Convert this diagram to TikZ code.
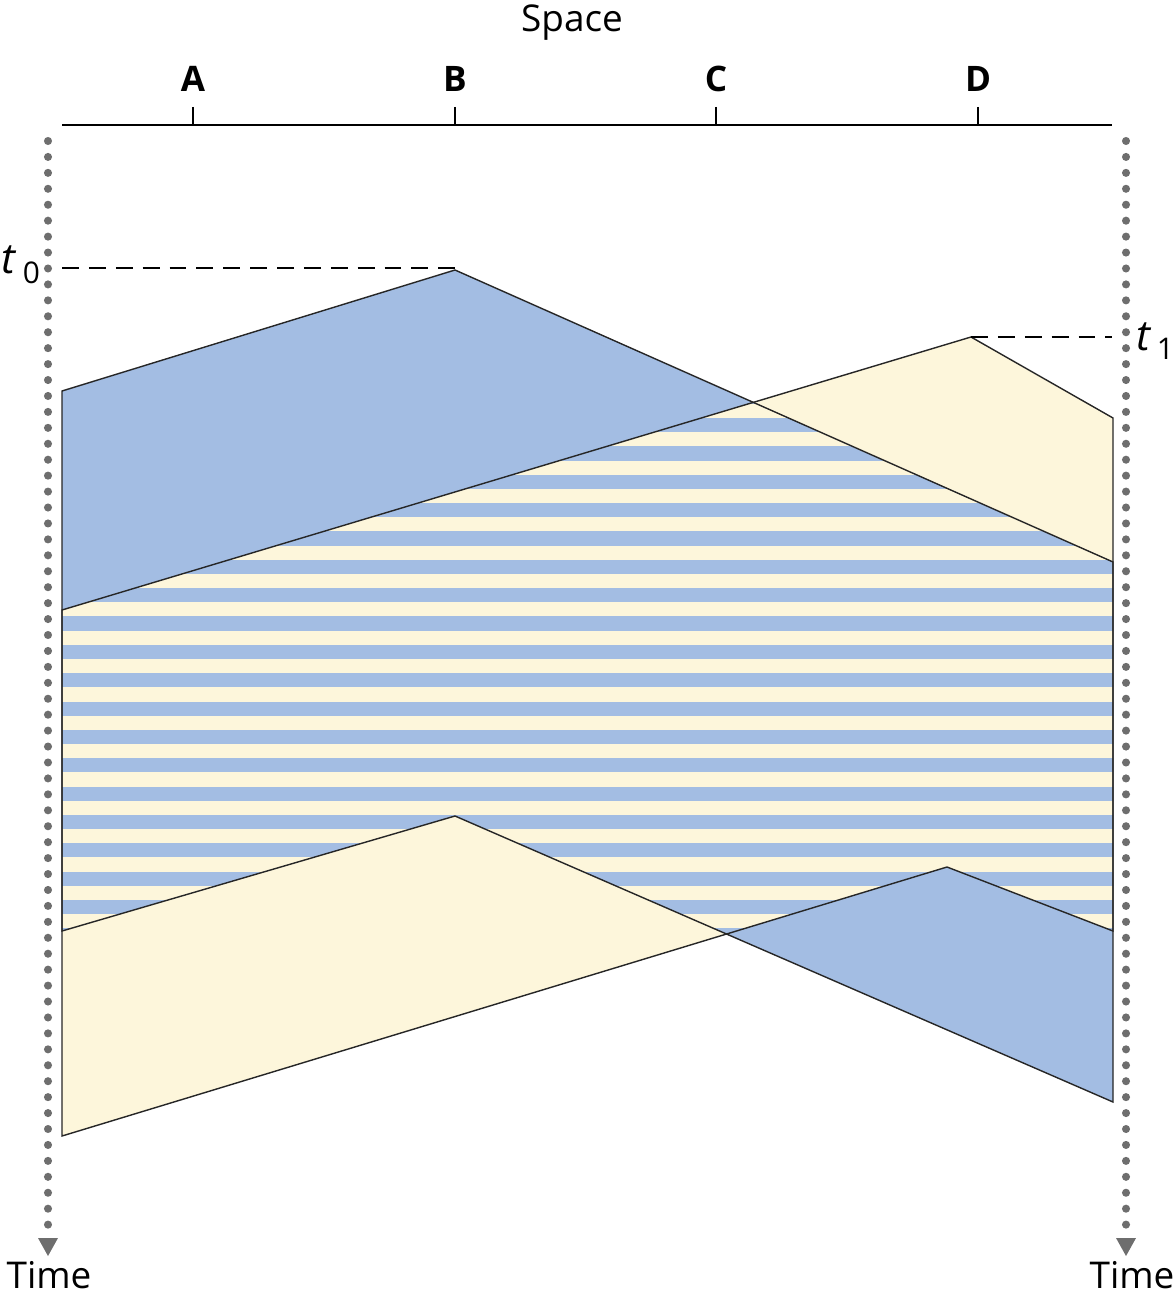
\documentclass[tikz,border=0pt]{standalone}
\usepackage{fontspec}
\setmainfont{Open Sans}

\definecolor{sigblue}{RGB}{163,189,227}
\definecolor{sigyellow}{RGB}{253,246,219}
\definecolor{dotgray}{RGB}{110,110,110}

% the two pulses, as closed paths
\newcommand{\bluezone}{(62,391) -- (455,270) -- (1113,562) -- (1113,1102) -- (455,816) -- (62,931) -- cycle}
\newcommand{\yellowzone}{(62,610) -- (971,337) -- (1113,418) -- (1113,931) -- (947,867) -- (62,1136) -- cycle}

\begin{document}
\begin{tikzpicture}[x=0.02cm,y=-0.02cm,
	front/.style={draw=black!85, line width=0.8pt},
	timeline/.style={dotgray, line width=4.6pt, line cap=round, dash pattern=on 0pt off 9.07pt},
	marker/.style={dash pattern=on 9.6pt off 5.7pt, line width=1.2pt},
	place/.style={font=\fontsize{20}{24}\selectfont\bfseries, anchor=base},
	caption/.style={font=\fontsize{21}{25}\selectfont, anchor=base}]
	\useasboundingbox (0,0) rectangle (1175,1297);

	\fill[sigblue] \bluezone;
	\fill[sigyellow] \yellowzone;

	% overlap: stripes
	\begin{scope}
		\clip \bluezone;
		\clip \yellowzone;
		\foreach \k in {-1,...,19}{
			\fill[sigblue] (60,418+28.35*\k) rectangle (1115,432.2+28.35*\k);
		}
	\end{scope}

	\draw[front] \bluezone;
	\draw[front] \yellowzone;

	% space axis
	\draw[line width=1.1pt] (62,125) -- (1112,125);
	\foreach \x/\name in {193/A, 455/B, 716/C, 978/D}{
		\draw[line width=1.1pt] (\x,107) -- (\x,125);
		\node[place] (\name) at (\x,92) {\name};
	}
	\node[caption] (space) at (572,32) {Space};

	% time axes
	\foreach \x/\side in {48/L, 1126/R}{
		\draw[timeline] (\x,141) -- (\x,1229);
		\fill[dotgray] (\x-10,1238) -- (\x+10,1238) -- (\x,1256) -- cycle;
	}
	\node[caption] (timeL) at (49,1288) {Time};
	\node[caption] (timeR) at (1132,1288) {Time};

	% emission times
	\coordinate (peakB) at (455,268);
	\coordinate (peakD) at (971,337);
	\node[anchor=base, inner sep=0pt] (tzero) at (21,274) {\fontsize{24}{28}\selectfont\itshape t\,\raisebox{-0.4ex}{\upshape\fontsize{17}{20}\selectfont 0}};
	\node[anchor=base, inner sep=0pt] (tone) at (1155,350) {\fontsize{24}{28}\selectfont\itshape t\,\raisebox{-0.4ex}{\upshape\fontsize{17}{20}\selectfont 1}};
	\draw[marker] (62,268) -- (peakB);
	\draw[marker] (peakD) -- (1112,337);
\end{tikzpicture}
\end{document}
